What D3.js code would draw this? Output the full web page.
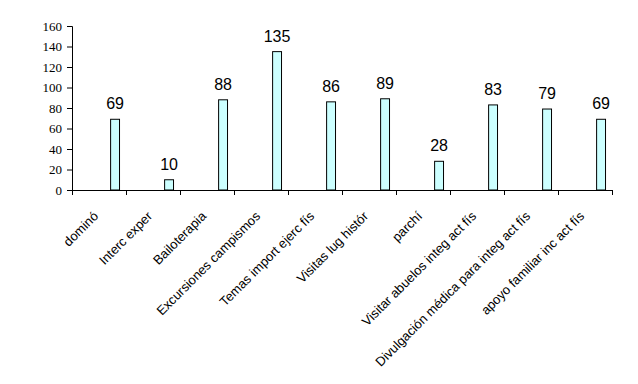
<!DOCTYPE html>
<html><head><meta charset="utf-8">
<script src="https://cdn.jsdelivr.net/npm/d3@7"></script>
<style>html,body{margin:0;padding:0;background:#fff;}</style>
</head><body>
<svg id="c" width="638" height="384"></svg>
<script>
const categories = ["dominó","Interc exper","Bailoterapia","Excursiones campismos","Temas import ejerc fís","Visitas lug histór","parchí","Visitar abuelos integ act fís","Divulgación médica para integ act fís","apoyo familiar inc act fís"];
const values = [69,10,88,135,86,89,28,83,79,69];
const yTicks = [0,20,40,60,80,100,120,140,160];

const svg = d3.select("#c");
const L = 72, R = 612, T = 26, B = 190;
const x = d3.scaleBand().domain(categories).range([L, R]).padding(0);
const y = d3.scaleLinear().domain([0,160]).range([B, T]);

// bars
const bw = x.bandwidth();
svg.append("g").selectAll("rect").data(values).join("rect")
  .attr("x", (d,i)=> x(categories[i]) + bw*0.715)
  .attr("y", d=> y(d))
  .attr("width", bw*0.165)
  .attr("height", d=> B - y(d))
  .attr("fill", "#CCFFFF").attr("stroke", "#000").attr("stroke-width", 1);

// value labels
svg.append("g").selectAll("text").data(values).join("text")
  .attr("x", (d,i)=> x(categories[i]) + bw*0.715 + bw*0.0825)
  .attr("y", d=> y(d) - 10)
  .attr("text-anchor","middle")
  .style("font-family","Arial, 'Liberation Sans', sans-serif")
  .style("font-size", "16px")
  .text(d=>d);

// y axis
const ya = svg.append("g").attr("transform", `translate(${L},0)`)
  .call(d3.axisLeft(y).tickValues(yTicks).tickSize(5).tickPadding(5));
ya.attr("font-family", null).attr("font-size", null);
ya.selectAll("text").style("font-family","'Liberation Serif', 'Times New Roman', serif").style("font-size", "13px").attr("fill","#000");
ya.select(".domain").attr("stroke","#000");
ya.selectAll(".tick line").attr("stroke","#000");

// x axis: line and boundary ticks
const xg = svg.append("g");
xg.append("line").attr("x1", L).attr("x2", R).attr("y1", B+0.5).attr("y2", B+0.5).attr("stroke","#000");
const bounds = categories.map(c=>x(c)).concat([R]);
xg.selectAll("line.t").data(bounds).join("line").attr("class","t")
  .attr("x1", d=>d+0.5).attr("x2", d=>d+0.5).attr("y1", B).attr("y2", B+5).attr("stroke","#000");

// category labels
xg.selectAll("text").data(categories).join("text")
  .attr("transform", d=> `translate(${x(d)+bw/2},${B+27}) rotate(-45)`)
  .attr("text-anchor","end")
  .style("font-family","Arial, 'Liberation Sans', sans-serif")
  .style("font-size", "13px")
  .text(d=>d);
</script>
</body></html>
